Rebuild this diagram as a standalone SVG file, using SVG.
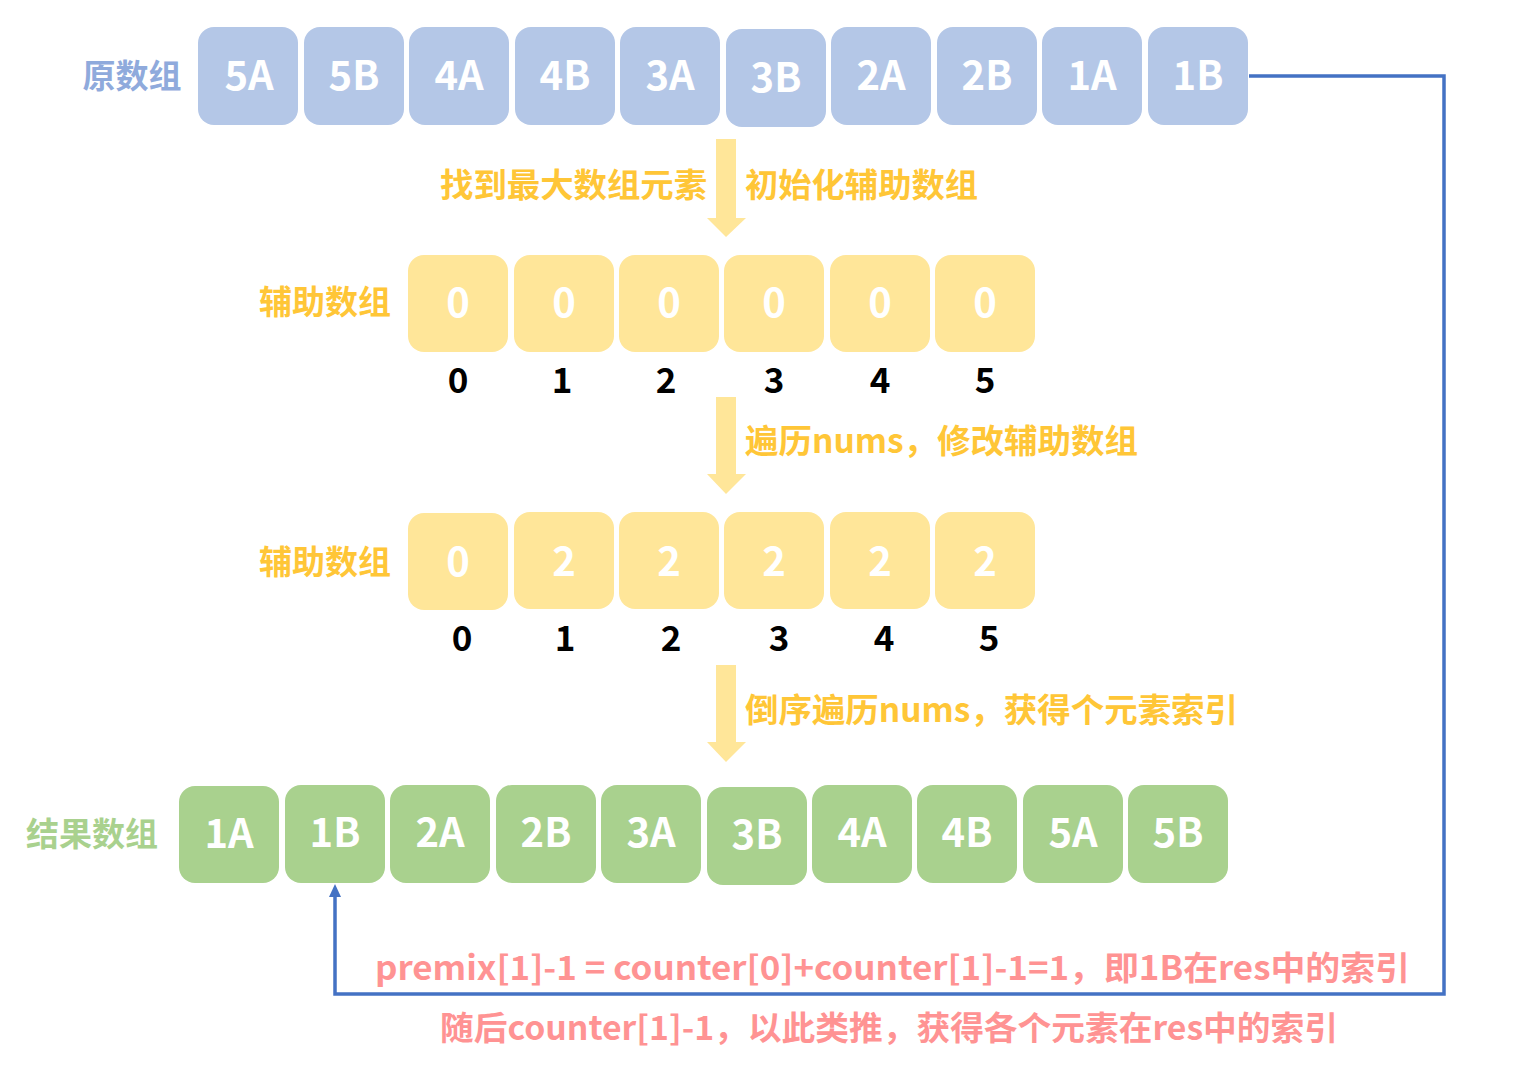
<svg xmlns="http://www.w3.org/2000/svg" width="1535" height="1076" viewBox="0 0 1535 1076">
<style>
text{font-family:"Noto Sans CJK SC","Noto Sans",sans-serif;font-weight:bold;dominant-baseline:central;text-anchor:middle}
.bb{fill:#B4C7E7}
.yb{fill:#FFE699}
.gb{fill:#A9D18E}
.bt{fill:#FFFFFF;font-size:40px}
.idx{fill:#000000;font-size:35px}
.lab{font-size:33px}
.ytxt{fill:#FFC637;font-size:33px;text-anchor:start}
.ptxt{fill:#FF9393;font-size:33px;text-anchor:start}
.conn{fill:none;stroke:#4472C4;stroke-width:3.5}
.yarrow{fill:#FFE699}
</style>
<rect width="1535" height="1076" fill="#FFFFFF"/>

<g id="connectors">
<path class="conn" d="M1249 76 H1444 V994 H335 V897"/>
<path d="M335 884 L341 897 L329 897 Z" fill="#4472C4"/>
<path class="yarrow" d="M716 139 H736 V218 H746 L726 237 L707 218 H716 Z"/>
<path class="yarrow" d="M716 397 H736 V474 H746 L726 494 L707 474 H716 Z"/>
<path class="yarrow" d="M716 665 H736 V742 H746 L726 762 L707 742 H716 Z"/>
</g>

<g id="label-orig"><text class="lab" x="132" y="74" fill="#8FAADC">原数组</text></g>
<g id="orig-5A"><rect class="bb" x="198" y="27" width="100" height="98" rx="16"/><text class="bt" x="249" y="73">5A</text></g>
<g id="orig-5B"><rect class="bb" x="304" y="27" width="100" height="98" rx="16"/><text class="bt" x="354" y="73">5B</text></g>
<g id="orig-4A"><rect class="bb" x="409" y="27" width="100" height="98" rx="16"/><text class="bt" x="459" y="73">4A</text></g>
<g id="orig-4B"><rect class="bb" x="515" y="27" width="100" height="98" rx="16"/><text class="bt" x="565" y="73">4B</text></g>
<g id="orig-3A"><rect class="bb" x="620" y="27" width="100" height="98" rx="16"/><text class="bt" x="670" y="73">3A</text></g>
<g id="orig-3B"><rect class="bb" x="726" y="29" width="100" height="98" rx="16"/><text class="bt" x="776" y="75">3B</text></g>
<g id="orig-2A"><rect class="bb" x="831" y="27" width="100" height="98" rx="16"/><text class="bt" x="881" y="73">2A</text></g>
<g id="orig-2B"><rect class="bb" x="937" y="27" width="100" height="98" rx="16"/><text class="bt" x="987" y="73">2B</text></g>
<g id="orig-1A"><rect class="bb" x="1042" y="27" width="100" height="98" rx="16"/><text class="bt" x="1092" y="73">1A</text></g>
<g id="orig-1B"><rect class="bb" x="1148" y="27" width="100" height="98" rx="16"/><text class="bt" x="1198" y="73">1B</text></g>

<g id="step1-text">
<text class="ytxt" x="440" y="183" textLength="267" lengthAdjust="spacingAndGlyphs">找到最大数组元素</text>
<text class="ytxt" x="745" y="183" textLength="233" lengthAdjust="spacingAndGlyphs">初始化辅助数组</text>
</g>

<g id="label-aux1"><text class="lab" x="325" y="300" fill="#FFC637">辅助数组</text></g>
<g id="aux1-0"><rect class="yb" x="408" y="255" width="100" height="97" rx="16"/><text class="bt" x="458" y="300">0</text><text class="idx" x="458" y="377">0</text></g>
<g id="aux1-1"><rect class="yb" x="514" y="255" width="100" height="97" rx="16"/><text class="bt" x="564" y="300">0</text><text class="idx" x="562" y="377">1</text></g>
<g id="aux1-2"><rect class="yb" x="619" y="255" width="100" height="97" rx="16"/><text class="bt" x="669" y="300">0</text><text class="idx" x="666" y="377">2</text></g>
<g id="aux1-3"><rect class="yb" x="724" y="255" width="100" height="97" rx="16"/><text class="bt" x="774" y="300">0</text><text class="idx" x="774" y="377">3</text></g>
<g id="aux1-4"><rect class="yb" x="830" y="255" width="100" height="97" rx="16"/><text class="bt" x="880" y="300">0</text><text class="idx" x="880" y="377">4</text></g>
<g id="aux1-5"><rect class="yb" x="935" y="255" width="100" height="97" rx="16"/><text class="bt" x="985" y="300">0</text><text class="idx" x="985" y="377">5</text></g>

<g id="step2-text"><text class="ytxt" x="745" y="439" textLength="393" lengthAdjust="spacingAndGlyphs">遍历nums，修改辅助数组</text></g>

<g id="label-aux2"><text class="lab" x="325" y="560" fill="#FFC637">辅助数组</text></g>
<g id="aux2-0"><rect class="yb" x="408" y="513" width="100" height="97" rx="16"/><text class="bt" x="458" y="559">0</text><text class="idx" x="462" y="635">0</text></g>
<g id="aux2-1"><rect class="yb" x="514" y="512" width="100" height="97" rx="16"/><text class="bt" x="564" y="559">2</text><text class="idx" x="565" y="635">1</text></g>
<g id="aux2-2"><rect class="yb" x="619" y="512" width="100" height="97" rx="16"/><text class="bt" x="669" y="559">2</text><text class="idx" x="671" y="635">2</text></g>
<g id="aux2-3"><rect class="yb" x="724" y="512" width="100" height="97" rx="16"/><text class="bt" x="774" y="559">2</text><text class="idx" x="779" y="635">3</text></g>
<g id="aux2-4"><rect class="yb" x="830" y="512" width="100" height="97" rx="16"/><text class="bt" x="880" y="559">2</text><text class="idx" x="884" y="635">4</text></g>
<g id="aux2-5"><rect class="yb" x="935" y="512" width="100" height="97" rx="16"/><text class="bt" x="985" y="559">2</text><text class="idx" x="989" y="635">5</text></g>

<g id="step3-text"><text class="ytxt" x="745" y="708" textLength="493" lengthAdjust="spacingAndGlyphs">倒序遍历nums，获得个元素索引</text></g>

<g id="label-res"><text class="lab" x="92" y="832" fill="#A9D18E">结果数组</text></g>
<g id="res-1A"><rect class="gb" x="179" y="786" width="100" height="97" rx="16"/><text class="bt" x="229" y="831">1A</text></g>
<g id="res-1B"><rect class="gb" x="285" y="785" width="100" height="98" rx="16"/><text class="bt" x="335" y="830">1B</text></g>
<g id="res-2A"><rect class="gb" x="390" y="785" width="100" height="98" rx="16"/><text class="bt" x="440" y="830">2A</text></g>
<g id="res-2B"><rect class="gb" x="496" y="785" width="100" height="98" rx="16"/><text class="bt" x="546" y="830">2B</text></g>
<g id="res-3A"><rect class="gb" x="601" y="785" width="100" height="98" rx="16"/><text class="bt" x="651" y="830">3A</text></g>
<g id="res-3B"><rect class="gb" x="707" y="787" width="100" height="98" rx="16"/><text class="bt" x="757" y="832">3B</text></g>
<g id="res-4A"><rect class="gb" x="812" y="785" width="100" height="98" rx="16"/><text class="bt" x="862" y="830">4A</text></g>
<g id="res-4B"><rect class="gb" x="917" y="785" width="100" height="98" rx="16"/><text class="bt" x="967" y="830">4B</text></g>
<g id="res-5A"><rect class="gb" x="1023" y="785" width="100" height="98" rx="16"/><text class="bt" x="1073" y="830">5A</text></g>
<g id="res-5B"><rect class="gb" x="1128" y="785" width="100" height="98" rx="16"/><text class="bt" x="1178" y="830">5B</text></g>

<g id="notes">
<text class="ptxt" x="375" y="966" textLength="1035" lengthAdjust="spacingAndGlyphs">premix[1]-1 = counter[0]+counter[1]-1=1，即1B在res中的索引</text>
<text class="ptxt" x="440" y="1026" textLength="898" lengthAdjust="spacingAndGlyphs">随后counter[1]-1，以此类推，获得各个元素在res中的索引</text>
</g>
</svg>
